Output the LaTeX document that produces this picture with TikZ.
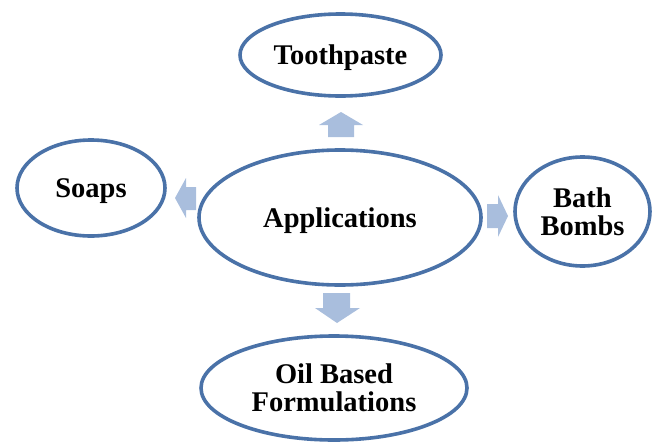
\documentclass[tikz,border=0pt]{standalone}
\usepackage{fontspec}
\setmainfont{Liberation Serif}
\usetikzlibrary{shapes.geometric}
\definecolor{edgeblue}{HTML}{4A72A8}
\definecolor{arrowblue}{HTML}{A9BEDD}
\tikzset{
  bubble/.style={ellipse, draw=edgeblue, line width=3.6pt, fill=white, inner sep=0pt,
    align=center, text depth=0pt, font=\fontsize{28.5}{28}\selectfont\bfseries},
  blockarrow/.style={fill=arrowblue, draw=none}
}
\begin{document}
\begin{tikzpicture}[x=1pt,y=-1pt]
\useasboundingbox (0,0) rectangle (656,442);
% ellipses
\node[bubble, minimum width=201pt, minimum height=82pt] (tooth) at (340.5,55) {Toothpaste};
\node[bubble, minimum width=282pt, minimum height=135pt] (app) at (340,217.5) {Applications};
\node[bubble, minimum width=148pt, minimum height=96pt] (soaps) at (91,188) {Soaps};
\node[bubble, minimum width=135pt, minimum height=109pt] (bath) at (582.5,211.5) {Bath\\Bombs};
\node[bubble, minimum width=266pt, minimum height=104pt] (oil) at (334,388) {Oil Based\\Formulations};
% block arrows
\fill[blockarrow] (341,112) -- (363,125) -- (354,125) -- (354,137) -- (328,137) -- (328,125) -- (319,125) -- cycle;
\fill[blockarrow] (337,323) -- (360,308) -- (350,308) -- (350,293) -- (323,293) -- (323,308) -- (315,308) -- cycle;
\fill[blockarrow] (508,216) -- (498,195) -- (498,204) -- (487,204) -- (487,228) -- (498,228) -- (498,237) -- cycle;
\fill[blockarrow] (175,198) -- (186,178) -- (186,187) -- (196,187) -- (196,210) -- (186,210) -- (186,218) -- cycle;
\end{tikzpicture}
\end{document}
